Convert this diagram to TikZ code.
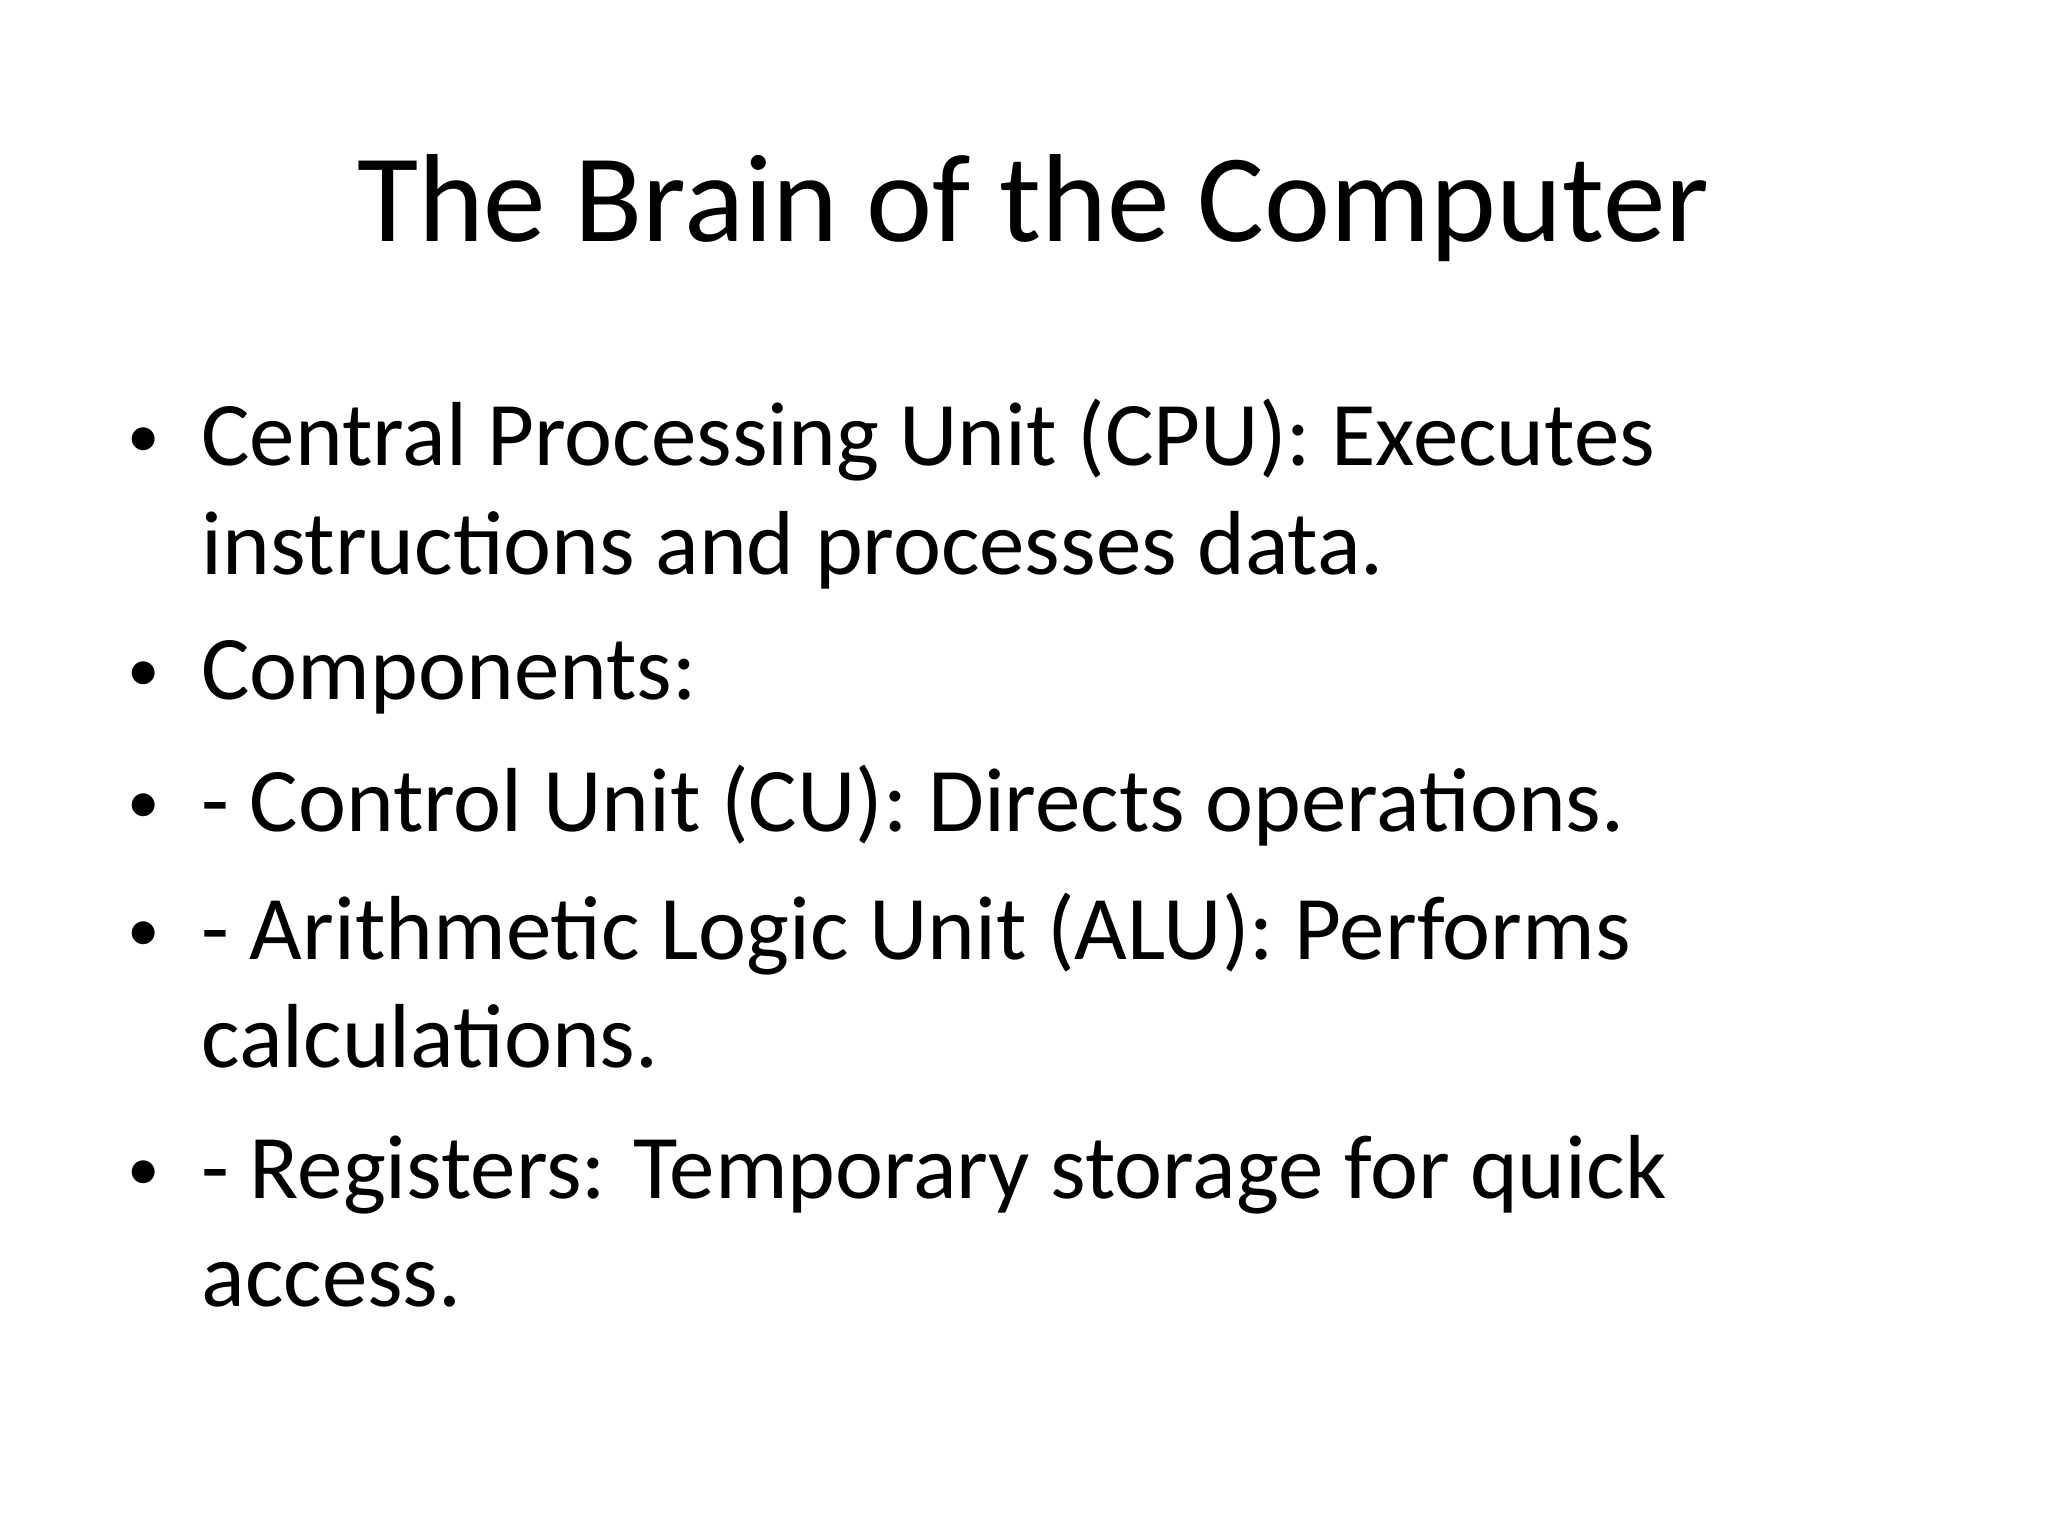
\documentclass[tikz,border=0pt]{standalone}
\usepackage{fontspec}
\setmainfont{Carlito}
\begin{document}
\begin{tikzpicture}[x=0.01cm,y=-0.01cm,
  body/.style={anchor=base west,inner sep=0pt,font=\fontsize{19.6pt}{24pt}\selectfont},
  bul/.style={anchor=base west,inner sep=0pt,font=\fontsize{14pt}{18pt}\selectfont}]
\useasboundingbox (0,0) rectangle (1552,1164);
\node[anchor=base,inner sep=0pt,font=\fontsize{27pt}{32pt}\selectfont] (title) at (783,183) {The Brain of the Computer};
\foreach \y/\n in {347/b1,524/b2,624/b3,721/b4,902/b5}
  \node[bul] (\n) at (96,\y) {•};
\node[body] (l1) at (152,353) {Central Processing Unit (CPU): Executes};
\node[body] (l2) at (152,435) {instructions and processes data.};
\node[body] (l3) at (152,530) {Components:};
\node[body] (l4) at (152,630) {- Control Unit (CU): Directs operations.};
\node[body] (l5) at (152,727) {- Arithmetic Logic Unit (ALU): Performs};
\node[body] (l6) at (152,809) {calculations.};
\node[body] (l7) at (152,908) {- Registers: Temporary storage for quick};
\node[body] (l8) at (152,990) {access.};
\end{tikzpicture}
\end{document}
